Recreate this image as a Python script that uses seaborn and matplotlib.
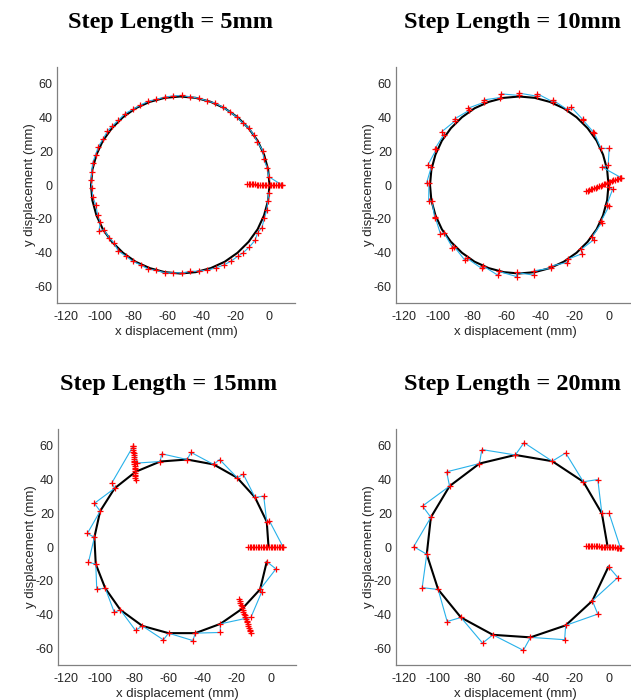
import matplotlib
matplotlib.use("Agg")
import matplotlib.pyplot as plt
import seaborn as sns

# ---------------- data ----------------
titles = ["Step Length = 5mm", "Step Length = 10mm", "Step Length = 15mm", "Step Length = 20mm"]
x_ticks = [-120, -100, -80, -60, -40, -20, 0]
y_ticks = [-60, -40, -20, 0, 20, 40, 60]

# target circle (panels 1 and 2)
circle_x = [0.0, -0.8, -3.2, -7.0, -12.3, -18.8, -26.3, -34.5, -43.4, -52.5, -61.6, -70.5, -78.8, -86.2,
            -92.7, -98.0, -101.8, -104.2, -105.0, -104.2, -101.8, -98.0, -92.7, -86.2, -78.8, -70.5,
            -61.6, -52.5, -43.4, -34.5, -26.3, -18.8, -12.3, -7.0, -3.2, -0.8, 0.0]
circle_y = [0.0, 9.1, 18.0, 26.3, 33.7, 40.2, 45.5, 49.3, 51.7, 52.5, 51.7, 49.3, 45.5, 40.2,
            33.7, 26.3, 18.0, 9.1, 0.0, -9.1, -18.0, -26.3, -33.7, -40.2, -45.5, -49.3,
            -51.7, -52.5, -51.7, -49.3, -45.5, -40.2, -33.7, -26.3, -18.0, -9.1, 0.0]

# panel 1 (5 mm) measured path
p1_x = [7.3, -0.4, -1.4, -3.4, -3.9, -7.1, -9.1, -12.0, -15.8, -19.3, -23.3, -27.6, -32.0, -36.7, -41.7,
        -46.6, -51.5, -56.7, -61.6, -66.5, -71.3, -76.0, -80.5, -84.9, -89.0, -92.6, -95.3, -98.1, -100.7,
        -102.3, -104.0, -104.6, -105.0, -104.4, -104.0, -102.1, -101.1, -99.5, -100.3, -97.5, -94.4, -91.4,
        -89.0, -84.5, -80.5, -75.8, -71.3, -66.5, -61.4, -56.5, -51.5, -46.6, -41.7, -36.7, -31.6, -26.8,
        -22.7, -18.8, -15.4, -11.8, -8.5, -6.9, -4.5, -3.0, -1.6, -1.0, -0.4]
p1_y = [0.0, 4.9, 10.3, 15.2, 20.3, 25.5, 29.4, 33.6, 36.9, 40.3, 43.4, 46.2, 48.6, 49.9, 51.5,
        52.3, 53.1, 52.9, 52.1, 50.9, 49.7, 47.4, 44.8, 42.4, 38.3, 34.9, 32.0, 27.0, 22.7,
        18.0, 13.2, 7.7, 3.0, -2.0, -6.9, -12.0, -18.0, -21.9, -27.2, -26.5, -31.2, -34.5,
        -39.1, -42.2, -45.2, -47.4, -49.9, -50.7, -52.1, -52.1, -52.1, -51.3, -51.1, -50.5, -49.2, -47.4,
        -45.2, -42.4, -40.1, -36.7, -32.8, -28.2, -25.3, -19.7, -14.8, -9.5, -4.5]
p1_cx = [-13.2, -12.3, -11.4, -10.4, -9.5, -8.6, -7.6, -6.6, -5.7, -4.7, -3.8, -2.9, -1.9, -1.0, 0.0,
         1.0, 1.9, 2.9, 3.9, 4.8, 5.8, 6.8, 7.3]
p1_cy = [0.4, 0.4, 0.3, 0.3, 0.3, 0.3, 0.2, 0.2, 0.2, 0.1, 0.1, 0.1, 0.0, 0.0, 0.0,
         0.0, -0.1, -0.1, -0.1, -0.2, -0.2, -0.2, -0.2]

# panel 2 (10 mm)
p2_x = [0.0, 2.4, -1.0, 0.4, -4.3, -4.1, -9.5, -8.5, -16.0, -15.4, -23.9, -24.5, -33.6, -33.6, -43.8,
        -43.8, -54.1, -54.1, -64.4, -65.1, -73.8, -74.6, -83.3, -84.5, -90.8, -91.8, -96.7, -98.9,
        -101.9, -102.3, -103.8, -105.8, -105.6, -107.0, -104.2, -106.2, -101.3, -102.1, -96.9, -98.1,
        -90.4, -90.4, -82.1, -82.5, -73.4, -73.2, -63.6, -63.2, -52.9, -52.5, -42.2, -41.8, -32.6,
        -32.6, -24.3, -21.9, -15.2, -15.0, -8.9, -8.3, -4.5, 0.4, -0.2, -3.9, 7.3]
p2_y = [-1.2, -2.6, -11.8, -12.4, -21.3, -22.5, -30.6, -32.4, -38.1, -40.7, -44.0, -46.0, -48.0, -49.3,
        -50.9, -53.5, -51.9, -54.3, -51.3, -53.5, -48.0, -49.5, -43.4, -44.6, -36.5, -37.1, -28.4,
        -28.8, -19.3, -19.1, -9.7, -9.3, 1.0, 1.2, 10.9, 12.0, 21.1, 21.5, 29.8, 31.6, 37.9, 39.3,
        44.2, 45.6, 49.0, 50.5, 51.9, 54.1, 53.1, 54.5, 52.7, 54.1, 49.3, 50.3, 44.8, 46.2, 38.9,
        38.5, 31.4, 30.6, 21.7, 21.7, 11.6, 10.7, 4.4]
p2_cx = [-13.2, -12.3, -11.4, -10.4, -9.5, -8.6, -7.6, -6.6, -5.7, -4.7, -3.8, -2.9, -1.9, -1.0, 0.0,
         1.0, 1.9, 2.9, 3.9, 4.8, 5.8, 6.8, 7.3]
p2_cy = [-3.7, -3.3, -3.0, -2.6, -2.2, -1.9, -1.5, -1.1, -0.8, -0.4, 0.0, 0.4, 0.7, 1.1, 1.5,
         1.9, 2.3, 2.7, 3.0, 3.4, 3.8, 4.2, 4.4]

# panel 3 (15 mm)
p3_tx = [-1.2, -2.2, -9.1, -19.6, -33.5, -49.1, -64.9, -79.4, -91.7, -100.2, -103.6, -102.8, -97.2,
         -88.3, -75.4, -60.0, -44.2, -29.5, -16.5, -6.1, -2.2]
p3_ty = [0.6, 15.0, 29.4, 41.1, 49.0, 51.9, 50.7, 44.6, 34.8, 21.3, 5.7, -10.1, -24.5,
         -37.3, -46.8, -51.1, -51.1, -45.6, -36.5, -25.1, -8.7]
p3_x = [-2.2, 3.2, -6.1, -5.1, -11.5, -29.5, -29.5, -44.2, -45.7, -60.0, -63.0, -75.4, -79.4, -88.3,
        -91.9, -97.2, -102.2, -102.8, -107.1, -103.6, -107.7, -100.2, -103.6, -91.7, -93.3, -80.8,
        -78.5, -64.9, -64.0, -49.1, -46.7, -33.5, -29.9, -19.6, -16.0, -9.1, -4.0, -2.2, -0.6, 7.3]
p3_y = [-8.7, -13.0, -25.1, -26.5, -41.7, -45.6, -50.7, -51.1, -55.5, -51.1, -55.1, -46.8, -49.5, -37.3,
        -38.7, -24.5, -24.9, -10.1, -9.1, 5.7, 8.1, 21.3, 25.9, 34.8, 38.1, 59.8,
        49.8, 50.7, 55.3, 51.9, 56.1, 49.0, 51.9, 41.1, 43.2, 29.4, 30.2, 15.0, 15.4, 0.2]
p3_cx = [-13.2, -12.3, -11.4, -10.4, -9.5, -8.6, -7.6, -6.6, -5.7, -4.7, -3.8, -2.9, -1.9, -1.0, 0.0,
         1.0, 1.9, 2.9, 3.9, 4.8, 5.8, 6.8, 7.3,
         -80.8, -80.7, -80.7, -80.6, -80.5, -80.4, -80.4, -80.3, -80.2, -80.1, -80.1, -80.0, -79.9,
         -79.8, -79.8, -79.7, -79.6, -79.5, -79.5, -79.4,
         -18.4, -18.0, -17.7, -17.3, -17.0, -16.6, -16.2, -15.9, -15.5, -15.1, -14.8, -14.4, -14.1,
         -13.7, -13.3, -13.0, -12.6, -12.2, -11.9, -11.5]
p3_cy = [0.1, 0.1, 0.1, 0.0, 0.0, 0.1, 0.0, 0.0, 0.1, 0.0, 0.0, 0.0, 0.1, 0.0, 0.1,
         0.0, 0.0, 0.0, 0.0, -0.1, 0.0, 0.0, 0.0,
         59.8, 58.7, 57.6, 56.6, 55.5, 54.5, 53.4, 52.4, 51.3, 50.3, 49.2, 48.2, 47.1,
         46.1, 45.0, 44.0, 42.9, 41.9, 40.8, 39.7,
         -31.0, -32.1, -33.1, -34.2, -35.2, -36.3, -37.3, -38.4, -39.5, -40.5, -41.6, -42.6, -43.7,
         -44.7, -45.8, -46.9, -47.9, -49.0, -50.0, -51.1]

# panel 4 (20 mm)
p4_tx = [-0.6, -3.9, -14.8, -33.1, -54.8, -75.9, -93.5, -104.5, -106.9, -100.2, -86.8, -68.0, -45.9,
         -25.2, -9.5, 0.0]
p4_ty = [0.6, 19.9, 38.7, 50.9, 54.6, 49.5, 36.1, 17.6, -4.3, -25.2, -41.8, -52.1, -53.6,
         -46.5, -31.9, -11.6]
p4_x = [0.0, 5.5, -9.5, -6.3, -25.2, -25.8, -45.9, -50.1, -68.0, -74.1, -86.8, -94.9, -100.2, -109.6,
        -106.9, -114.6, -104.5, -109.4, -93.5, -95.2, -75.9, -74.5, -54.8, -49.7, -33.1, -25.2, -14.8,
        -6.3, -3.9, 0.4, 7.0]
p4_y = [-11.6, -18.1, -31.9, -39.8, -46.5, -55.0, -53.6, -61.3, -52.1, -57.0, -41.8, -44.2, -25.2, -24.1,
        -4.3, 0.2, 17.6, 24.3, 36.1, 44.6, 49.5, 57.8, 54.6, 61.9, 50.9, 55.8, 38.7,
        40.0, 19.9, 19.9, -0.5]
p4_cx = [-13.2, -12.3, -11.4, -10.4, -9.5, -8.6, -7.6, -6.6, -5.7, -4.7, -3.8, -2.9, -1.9, -1.0, 0.0,
         1.0, 1.9, 2.9, 3.9, 4.8, 5.8, 6.8, 7.3]
p4_cy = [0.6, 0.6, 0.5, 0.5, 0.4, 0.4, 0.4, 0.3, 0.3, 0.2, 0.2, 0.1, 0.1, 0.0, 0.0,
         -0.1, -0.1, -0.2, -0.2, -0.3, -0.3, -0.4, -0.5]

# ---------------- style ----------------
sns.set_theme(style="white")
plt.rcParams["font.family"] = ["Liberation Sans", "DejaVu Sans"]
plt.rcParams["axes.unicode_minus"] = False

fig = plt.figure(figsize=(6.31, 7.0), dpi=100)
W, H = 631, 700
boxes = [(57, 67), (396, 67), (58, 429), (396, 429)]
title_pos = [(170, 28), (512, 28), (169, 390), (512, 390)]
aw, ah = 238, 236

panels = [
    (circle_x, circle_y, p1_x, p1_y, p1_cx, p1_cy),
    (circle_x, circle_y, p2_x, p2_y, p2_cx, p2_cy),
    (p3_tx, p3_ty, p3_x, p3_y, p3_cx, p3_cy),
    (p4_tx, p4_ty, p4_x, p4_y, p4_cx, p4_cy),
]

for i, (tx, ty, mx, my, cx, cy) in enumerate(panels):
    l, t = boxes[i]
    ax = fig.add_axes([l / W, 1 - (t + ah) / H, aw / W, ah / H])
    sns.lineplot(x=tx, y=ty, sort=False, estimator=None, color="black", lw=1.5, ax=ax)
    sns.lineplot(x=mx, y=my, sort=False, estimator=None, color="#27b1ea", lw=0.8, ax=ax)
    sns.scatterplot(x=mx + cx, y=my + cy, marker="+", color="red", s=15, linewidth=0.9,
                    ax=ax, zorder=3)
    ax.set_xlim(-125, 15)
    ax.set_ylim(-70, 70)
    ax.set_xticks(x_ticks)
    ax.set_yticks(y_ticks)
    ax.set_xticklabels([str(v) for v in x_ticks])
    ax.set_yticklabels([str(v) for v in y_ticks])
    for s in ["top", "right"]:
        ax.spines[s].set_visible(False)
    for s in ["left", "bottom"]:
        ax.spines[s].set_color("#808080")
        ax.spines[s].set_linewidth(0.9)
    ax.tick_params(axis="both", direction="in", length=3, width=0.8, color="#808080",
                   labelcolor="#262626", labelsize=9)
    ax.tick_params(axis="x", pad=6)
    ax.tick_params(axis="y", pad=3)
    ax.set_xlabel("x displacement (mm)", fontsize=9.5, color="#262626", labelpad=2)
    ax.set_ylabel("y displacement (mm)", fontsize=9.5, color="#262626", labelpad=-1)
    ax.patch.set_alpha(0)
    tx_, ty_ = title_pos[i]
    fig.text(tx_ / W, 1 - ty_ / H, titles[i], ha="center", va="baseline",
             family=["Liberation Serif", "DejaVu Serif"], fontweight="bold", fontsize=17.5,
             color="black")

fig.savefig("out.png", dpi=100)
